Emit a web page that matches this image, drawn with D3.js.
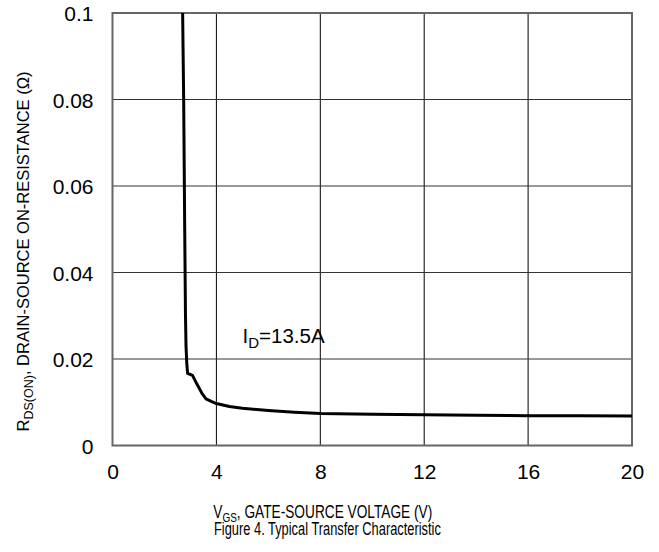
<!DOCTYPE html>
<html>
<head>
<meta charset="utf-8">
<script src="https://cdn.jsdelivr.net/npm/d3@7"></script>
<style>
  html, body { margin: 0; padding: 0; background: #fff; }
  svg { display: block; font-family: "Liberation Sans", Arial, sans-serif; }
</style>
</head>
<body>
<svg id="chart" width="659" height="552"></svg>
<script>
// Gate-source voltage (V) and on-resistance (ohm) at ID = 13.5 A
const vgs  = [2.70, 2.74, 2.78, 2.81, 2.83, 2.86, 2.89, 3.08, 3.25, 3.45, 3.6, 3.8, 4.0, 4.5, 5.0, 6.0, 7.0, 8.0, 10.0, 12.0, 14.0, 16.0, 18.0, 20.0];
const rds  = [0.100, 0.080, 0.050, 0.030, 0.023, 0.019, 0.0167, 0.0162, 0.0142, 0.0120, 0.0108, 0.0102, 0.0097, 0.0090, 0.0086, 0.0081, 0.0077, 0.0074, 0.0072, 0.0071, 0.0070, 0.0069, 0.0069, 0.0068];
const xTicks = [0, 4, 8, 12, 16, 20];
const yTicks = [0, 0.02, 0.04, 0.06, 0.08, 0.1];
const yTickLabels = ["0", "0.02", "0.04", "0.06", "0.08", "0.1"];

const svg = d3.select("#chart");
const plotL = 112.5, plotR = 632, plotT = 13, plotB = 445.5;
const FONT = "Liberation Sans, Arial, sans-serif";

const x = d3.scaleLinear().domain([0, 20]).range([plotL, plotR]);
const y = d3.scaleLinear().domain([0, 0.1]).range([plotB, plotT]);

// grid
svg.append("g").selectAll("line").data(xTicks.slice(1, -1)).join("line")
  .attr("x1", d => x(d)).attr("x2", d => x(d))
  .attr("y1", plotT).attr("y2", plotB)
  .attr("stroke", "#000").attr("stroke-width", 1);
svg.append("g").selectAll("line").data(yTicks.slice(1, -1)).join("line")
  .attr("x1", plotL).attr("x2", plotR)
  .attr("y1", d => y(d)).attr("y2", d => y(d))
  .attr("stroke", "#333").attr("stroke-width", 1);

// frame
svg.append("rect")
  .attr("x", plotL).attr("y", plotT)
  .attr("width", plotR - plotL).attr("height", plotB - plotT)
  .attr("fill", "none").attr("stroke", "#666").attr("stroke-width", 2);

// axis tick labels
const xAxis = d3.axisBottom(x).tickValues(xTicks).tickSize(0).tickPadding(18.5);
svg.append("g").attr("transform", `translate(0,${plotB})`).call(xAxis)
  .call(g => g.select(".domain").remove())
  .selectAll("text").attr("font-size", 21).attr("fill", "#000")
  .attr("font-family", FONT);

const yAxis = d3.axisLeft(y).tickValues(yTicks).tickSize(0).tickPadding(19)
  .tickFormat((d, i) => yTickLabels[i]);
svg.append("g").attr("transform", `translate(${plotL},0)`).call(yAxis)
  .call(g => g.select(".domain").remove())
  .selectAll("text").attr("font-size", 21).attr("fill", "#000")
  .attr("dy", "0.38em").attr("font-family", FONT);

// curve
svg.append("path")
  .datum(vgs.map((v, i) => [v, rds[i]]))
  .attr("d", d3.line().x(d => x(d[0])).y(d => y(d[1])).curve(d3.curveLinear))
  .attr("fill", "none").attr("stroke", "#000").attr("stroke-width", 3)
  .attr("stroke-linejoin", "round");

// annotation
const ann = svg.append("text").attr("x", 242.5).attr("y", 342.5)
  .attr("font-size", 20.5).attr("fill", "#000");
ann.append("tspan").text("I");
ann.append("tspan").attr("font-size", 15).attr("dy", 5).text("D");
ann.append("tspan").attr("dy", -5).text("=13.5A");

// text squeezed horizontally to a given width, left edge at x0
function squeezed(x0, baseline, width, size) {
  const t = svg.append("text").attr("x", 0).attr("y", 0)
    .attr("font-size", size).attr("fill", "#000");
  return {
    node: t,
    fit() {
      const w = t.node().getBBox().width;
      t.attr("transform", `translate(${x0},${baseline}) scale(${width / w},1)`);
    }
  };
}

// x axis title
const xt = squeezed(213.3, 518.3, 219, 18.5);
xt.node.append("tspan").text("V");
xt.node.append("tspan").attr("font-size", 13.5).attr("dy", 4).text("GS");
xt.node.append("tspan").attr("dy", -4).text(", GATE-SOURCE VOLTAGE (V)");
xt.fit();

const cap = squeezed(214, 535, 227, 18.5);
cap.node.text("Figure 4. Typical Transfer Characteristic");
cap.fit();

// y axis title
const yt = svg.append("text")
  .attr("transform", "translate(28.5,251.5) rotate(-90)")
  .attr("text-anchor", "middle").attr("font-size", 16.5).attr("fill", "#000");
yt.append("tspan").text("R");
yt.append("tspan").attr("font-size", 12.5).attr("dy", 4).text("DS(ON)");
yt.append("tspan").attr("dy", -4).text(", DRAIN-SOURCE ON-RESISTANCE (Ω)");
</script>
</body>
</html>
